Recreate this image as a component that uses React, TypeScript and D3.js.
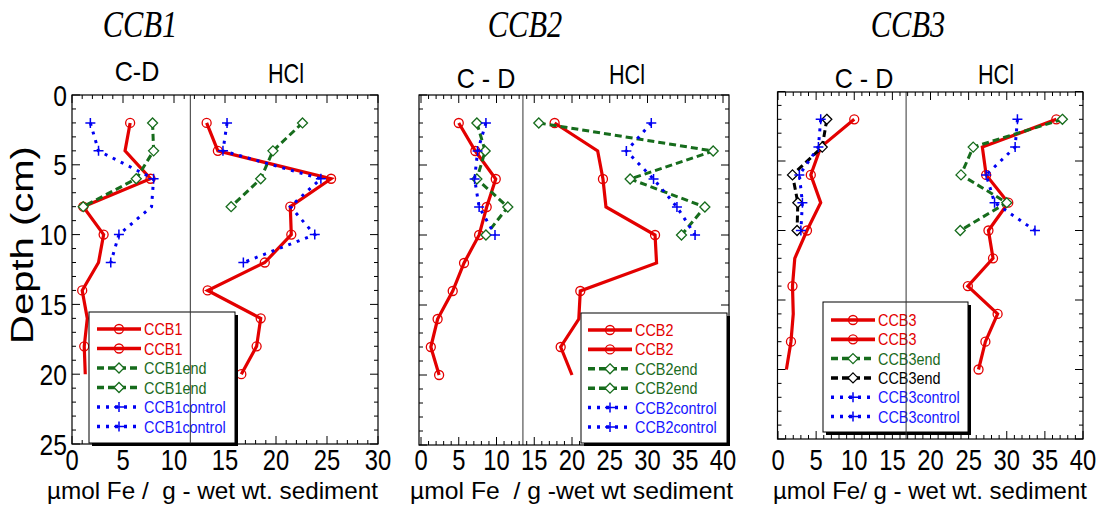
import React from "react";
import * as d3 from "d3";

// depths (cm) at which the cores were sampled
const depths = [2, 4, 6, 8, 10, 12, 14, 16, 18, 20];
const depthsTo8 = [2, 4, 6, 8];
const depthsTo10 = [2, 4, 6, 8, 10];
const depthsTo12 = [2, 4, 6, 8, 10, 12];

// CCB1 (umol Fe / g)
const ccb1CdFe = [5.7, 5.2, 7.7, 1.1, 3.1, 2.6, 1.0, 1.5, 1.2, 1.3];
const ccb1CdMeasured = [2, 6, 8, 10, 14, 18];
const ccb1HclFe = [13.2, 14.3, 25.4, 21.4, 21.5, 18.9, 13.3, 18.5, 18.1, 16.6];
const ccb1EndCd = [7.9, 8.0, 6.3, 1.1];
const ccb1EndHcl = [22.6, 19.7, 18.5, 15.6];
const ccb1ControlCd = [1.8, 2.6, 8.0, 7.8, 4.6, 3.8];
const ccb1ControlHcl = [15.2, 14.8, 24.4, 21.4, 23.8, 16.8];
const ccb1ControlMeasured = [2, 4, 6, 10, 12];

// CCB2
const ccb2CdFe = [5.0, 7.2, 9.9, 8.7, 7.7, 5.7, 4.2, 2.2, 1.3, 2.4];
const ccb2HclFe = [17.7, 23.4, 24.1, 24.5, 31.0, 31.2, 21.1, 20.9, 18.5, 20.0];
const ccb2HclMeasured = [2, 6, 10, 14, 18];
const ccb2EndCd = [7.4, 8.5, 7.4, 11.5, 8.6];
const ccb2EndHcl = [15.6, 38.7, 27.7, 37.6, 34.5];
const ccb2ControlCd = [8.6, 7.5, 7.1, 7.7, 9.8];
const ccb2ControlHcl = [30.5, 27.2, 30.8, 33.9, 36.3];

// CCB3
const ccb3CdFe = [10.0, 5.6, 4.3, 5.6, 3.8, 2.2, 1.9, 2.0, 1.7, 1.1];
const ccb3CdMeasured = [2, 6, 10, 14, 18];
const ccb3HclFe = [36.5, 26.8, 27.3, 30.2, 27.6, 28.2, 24.9, 28.8, 27.2, 26.3];
const ccb3HclMeasured = [2, 6, 8, 10, 12, 14, 16, 18, 20];
const ccb3EndHcl = [37.3, 25.6, 24.0, 30.0, 23.9];
const ccb3EndCd = [6.4, 5.8, 1.9, 2.6, 2.5];
const ccb3ControlCd = [5.6, 5.3, 2.8, 3.2, 3.0];
const ccb3ControlHcl = [31.4, 31.1, 27.3, 28.4, 33.7];

// boundary between the C-D and HCl extractions on each x axis
const ccb1Split = 11.6;
const ccb2Split = 13.5;
const ccb3Split = 16.8;

const depthTicks = [0, 5, 10, 15, 20, 25];
const feTicks30 = [0, 5, 10, 15, 20, 25, 30];
const feTicks40 = [0, 5, 10, 15, 20, 25, 30, 35, 40];

type Kind = "red" | "green" | "black" | "blue";
const STY: Record<Kind, { color: string; text: string; dash?: string; marker: string }> = {
  red: { color: "#e30000", text: "#e30000", marker: "circle" },
  green: { color: "#166c1c", text: "#1b6b22", dash: "7 4", marker: "diamond" },
  black: { color: "#000000", text: "#000000", dash: "7 4", marker: "diamond" },
  blue: { color: "#0000f2", text: "#1616ff", dash: "3 6", marker: "plus" },
};

interface Series { label: string; kind: Kind; depth: number[]; fe: number[]; measured?: number[]; lw: number }

const SANS = "'Liberation Sans', Arial, sans-serif";

function Marker({ shape, x, y, color }: { shape: string; x: number; y: number; color: string }) {
  if (shape === "circle")
    return <circle cx={x} cy={y} r={4.5} fill="white" fillOpacity={0} stroke={color} strokeWidth={1.3} />;
  if (shape === "diamond")
    return <path d={`M${x},${y - 5}L${x + 5},${y}L${x},${y + 5}L${x - 5},${y}Z`} fill="white" stroke={color} strokeWidth={1.3} />;
  return <path d={`M${x - 5},${y}H${x + 5}M${x},${y - 5}V${y + 5}`} stroke={color} strokeWidth={1.5} />;
}

function Txt({ x, y, sx = 1, anchor = "middle", size, children, color = "#000", family = SANS, italic = false }: any) {
  return (
    <text transform={`translate(${x},${y}) scale(${sx},1)`} textAnchor={anchor} fontSize={size}
      fontFamily={family} fontStyle={italic ? "italic" : "normal"} fill={color} style={{ whiteSpace: "pre" }}>
      {children}
    </text>
  );
}

interface PanelCfg {
  title: string; titleX: number;
  cd: string; cdX: number; cdY: number; hcl: string; hclX: number; hclY: number;
  frame: [number, number, number, number];
  xDom: [number, number]; xRange: [number, number]; yRange: [number, number];
  xTicks: number[]; split: number; showY: boolean;
  series: Series[];
  legend: { x: number; y: number; w: number; h: number; row0: number; dy: number; lineX: number };
  axisTitle: string; axisX: number; axisW: number;
}

function Panel({ c }: { c: PanelCfg }) {
  const [fx0, fx1, fy0, fy1] = c.frame;
  const x = d3.scaleLinear().domain(c.xDom).range(c.xRange);
  const y = d3.scaleLinear().domain([0, 25]).range(c.yRange);
  const xMax = Math.floor(x.invert(fx1));
  const xMinor = d3.range(0, xMax + 1).filter((v) => x(v) >= fx0 - 0.5 && x(v) <= fx1 + 0.5);
  const yMinor = d3.range(0, 26);
  const line = d3.line<[number, number]>().x((d) => x(d[0])).y((d) => y(d[1]));
  const L = c.legend;
  return (
    <g>
      <Txt x={c.titleX} y={37} size={38} sx={0.8} family="'Liberation Serif', 'Times New Roman', serif" italic>{c.title}</Txt>
      <Txt x={c.cdX} y={c.cdY} size={27} sx={0.93}>{c.cd}</Txt>
      <Txt x={c.hclX} y={c.hclY} size={27} sx={0.8}>{c.hcl}</Txt>
      {/* ticks */}
      <g stroke="#000" strokeWidth={1}>
        {xMinor.map((v) => {
          const len = v % 5 === 0 ? 8 : 4;
          return (
            <g key={"x" + v}>
              <line x1={x(v)} x2={x(v)} y1={fy1} y2={fy1 - len} />
              <line x1={x(v)} x2={x(v)} y1={fy0} y2={fy0 + len} />
            </g>
          );
        })}
        {yMinor.map((v) => {
          const len = v % 5 === 0 ? 8 : 4;
          return (
            <g key={"y" + v}>
              <line x1={fx0} x2={fx0 + len} y1={y(v)} y2={y(v)} />
              <line x1={fx1} x2={fx1 - len} y1={y(v)} y2={y(v)} />
            </g>
          );
        })}
      </g>
      {/* series */}
      {c.series.map((s, i) => {
        const st = STY[s.kind];
        const pts = s.depth.map((d, j) => [s.fe[j], d] as [number, number]);
        const mk = s.measured ? pts.filter((p) => s.measured!.includes(p[1])) : pts;
        return (
          <g key={i}>
            <path d={line(pts) || ""} fill="none" stroke={st.color} strokeWidth={s.lw} strokeDasharray={st.dash} />
            {mk.map((p, j) => <Marker key={j} shape={st.marker} x={x(p[0])} y={y(p[1])} color={st.color} />)}
          </g>
        );
      })}
      {/* legend */}
      <rect x={L.x + 3} y={L.y + 3} width={L.w} height={L.h} fill="#000" />
      <rect x={L.x} y={L.y} width={L.w} height={L.h} fill="#fff" stroke="#000" strokeWidth={1} />
      {c.series.map((s, i) => {
        const st = STY[s.kind];
        const ry = L.row0 + i * L.dy;
        const lx0 = L.lineX, lx1 = L.lineX + 44;
        return (
          <g key={"l" + i}>
            <line x1={lx0} x2={lx1} y1={ry} y2={ry} stroke={st.color} strokeWidth={s.lw + 0.5} strokeDasharray={st.dash} />
            <Marker shape={st.marker} x={(lx0 + lx1) / 2} y={ry} color={st.color} />
            <Txt x={lx1 + 3} y={ry + 6} size={16} sx={0.9} anchor="start" color={st.text}>{s.label}</Txt>
          </g>
        );
      })}
      {/* C-D | HCl boundary */}
      <line x1={x(c.split)} x2={x(c.split)} y1={fy0} y2={fy1} stroke="#333" strokeWidth={1} />
      <rect x={fx0} y={fy0} width={fx1 - fx0} height={fy1 - fy0} fill="none" stroke="#000" strokeWidth={1.2} />
      {c.xTicks.map((v) => (
        <Txt key={"xt" + v} x={x(v)} y={470} size={29} sx={0.82}>{String(v)}</Txt>
      ))}
      {c.showY && depthTicks.map((v) => (
        <Txt key={"yt" + v} x={67} y={y(v) + 10.5} size={29} sx={0.85} anchor="end">{String(v)}</Txt>
      ))}
      <text x={c.axisX} y={498.5} fontSize={24.5} fontFamily={SANS} textLength={c.axisW} lengthAdjust="spacingAndGlyphs"
        style={{ whiteSpace: "pre" }}>{c.axisTitle}</text>
    </g>
  );
}

const panels: PanelCfg[] = [
  {
    title: "CCB1", titleX: 140, cd: "C-D", cdX: 137, cdY: 81, hcl: "HCl", hclX: 286, hclY: 83,
    frame: [72, 378, 95, 444], xDom: [0, 30], xRange: [72, 378], yRange: [95, 444],
    xTicks: feTicks30, split: ccb1Split, showY: true,
    series: [
      { label: "CCB1", kind: "red", depth: depths, fe: ccb1CdFe, measured: ccb1CdMeasured, lw: 3.2 },
      { label: "CCB1", kind: "red", depth: depths, fe: ccb1HclFe, lw: 3.2 },
      { label: "CCB1end", kind: "green", depth: depthsTo8, fe: ccb1EndCd, lw: 3 },
      { label: "CCB1end", kind: "green", depth: depthsTo8, fe: ccb1EndHcl, lw: 3 },
      { label: "CCB1control", kind: "blue", depth: depthsTo12, fe: ccb1ControlCd, measured: ccb1ControlMeasured, lw: 3 },
      { label: "CCB1control", kind: "blue", depth: depthsTo12, fe: ccb1ControlHcl, measured: ccb1ControlMeasured, lw: 3 },
    ],
    legend: { x: 89, y: 312, w: 146, h: 131, row0: 329, dy: 19.5, lineX: 97 },
    axisTitle: "\u00b5mol Fe /  g - wet wt. sediment", axisX: 47, axisW: 331,
  },
  {
    title: "CCB2", titleX: 525, cd: "C - D", cdX: 486, cdY: 88, hcl: "HCl", hclX: 627, hclY: 84,
    frame: [419, 729, 95, 445], xDom: [0, 40], xRange: [421, 723], yRange: [95, 445],
    xTicks: feTicks40, split: ccb2Split, showY: false,
    series: [
      { label: "CCB2", kind: "red", depth: depths, fe: ccb2CdFe, lw: 3.2 },
      { label: "CCB2", kind: "red", depth: depths, fe: ccb2HclFe, measured: ccb2HclMeasured, lw: 3.2 },
      { label: "CCB2end", kind: "green", depth: depthsTo10, fe: ccb2EndCd, lw: 3 },
      { label: "CCB2end", kind: "green", depth: depthsTo10, fe: ccb2EndHcl, lw: 3 },
      { label: "CCB2control", kind: "blue", depth: depthsTo10, fe: ccb2ControlCd, lw: 3 },
      { label: "CCB2control", kind: "blue", depth: depthsTo10, fe: ccb2ControlHcl, lw: 3 },
    ],
    legend: { x: 581, y: 313, w: 146, h: 130, row0: 330, dy: 19.4, lineX: 588 },
    axisTitle: "\u00b5mol Fe  / g -wet wt sediment", axisX: 410, axisW: 323,
  },
  {
    title: "CCB3", titleX: 908, cd: "C - D", cdX: 864, cdY: 88, hcl: "HCl", hclX: 996, hclY: 84,
    frame: [777.5, 1083, 92, 439], xDom: [0, 40], xRange: [778, 1083], yRange: [91.5, 439],
    xTicks: feTicks40, split: ccb3Split, showY: false,
    series: [
      { label: "CCB3", kind: "red", depth: depths, fe: ccb3CdFe, measured: ccb3CdMeasured, lw: 3.2 },
      { label: "CCB3", kind: "red", depth: depths, fe: ccb3HclFe, measured: ccb3HclMeasured, lw: 3.2 },
      { label: "CCB3end", kind: "green", depth: depthsTo10, fe: ccb3EndHcl, lw: 3 },
      { label: "CCB3end", kind: "black", depth: depthsTo10, fe: ccb3EndCd, lw: 3 },
      { label: "CCB3control", kind: "blue", depth: depthsTo10, fe: ccb3ControlCd, lw: 3 },
      { label: "CCB3control", kind: "blue", depth: depthsTo10, fe: ccb3ControlHcl, lw: 3 },
    ],
    legend: { x: 823, y: 302, w: 145, h: 130, row0: 320, dy: 19.3, lineX: 831 },
    axisTitle: "\u00b5mol Fe/ g - wet wt. sediment", axisX: 773, axisW: 314,
  },
];

export default function App() {
  return (
    <svg width={1102} height={506} style={{ position: "absolute", left: 0, top: 0, background: "#fff" }}>
      <rect width={1102} height={506} fill="#fff" />
      {panels.map((p, i) => <Panel key={i} c={p} />)}
      <text transform="translate(33,245) rotate(-90) scale(1,0.8)" textAnchor="middle" fontSize={40} fontFamily={SANS}>
        Depth (cm)
      </text>
    </svg>
  );
}
